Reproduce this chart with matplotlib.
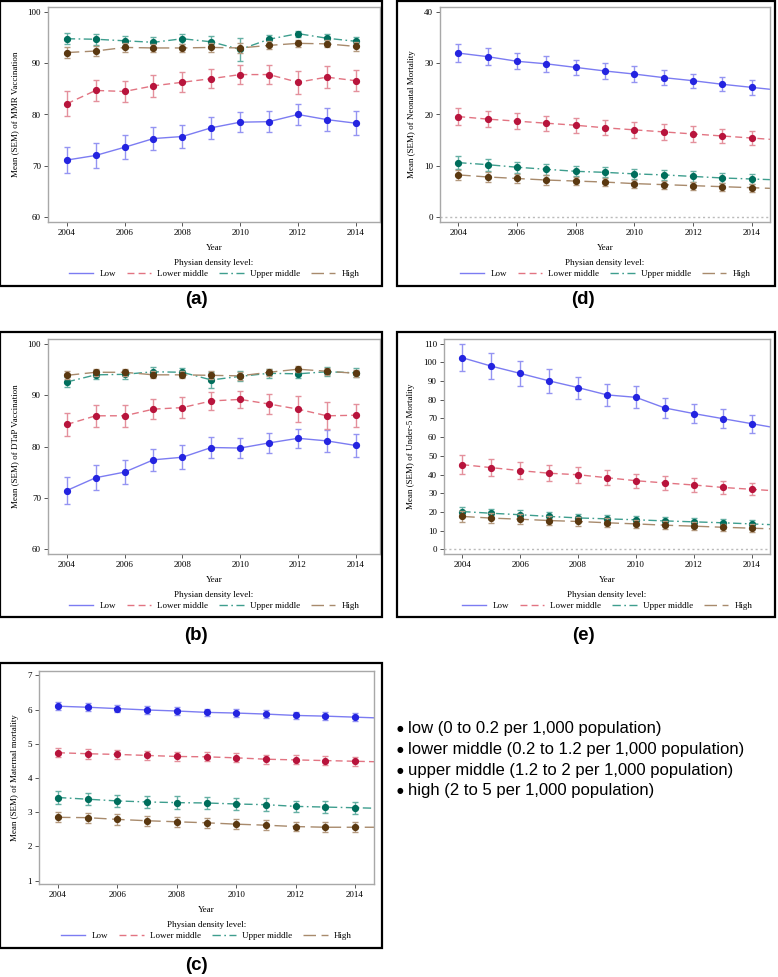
import numpy as np
import matplotlib
matplotlib.use("Agg")
import matplotlib.pyplot as plt
from matplotlib.patches import Rectangle
from matplotlib.lines import Line2D

# data
years = np.arange(2004, 2015)
groups = ["Low", "Lower middle", "Upper middle", "High"]

# (a) MMR vaccination
mmr_low = [71.1, 72.0, 73.6, 75.3, 75.7, 77.4, 78.5, 78.6, 80.0, 79.0, 78.3]
mmr_low_err = [2.6, 2.4, 2.3, 2.3, 2.2, 2.2, 2.0, 2.0, 2.0, 2.2, 2.3]
mmr_lowmid = [82.1, 84.7, 84.5, 85.6, 86.3, 87.0, 87.8, 87.8, 86.3, 87.3, 86.6]
mmr_lowmid_err = [2.4, 2.1, 2.1, 2.1, 2.0, 1.9, 1.9, 1.9, 2.2, 2.1, 2.1]
mmr_upmid = [94.8, 94.7, 94.4, 94.1, 94.8, 94.2, 92.7, 94.7, 95.8, 94.9, 94.3]
mmr_upmid_err = [1.1, 1.1, 1.0, 1.1, 1.0, 1.1, 2.2, 0.9, 0.6, 0.8, 0.9]
mmr_high = [92.1, 92.4, 93.1, 93.0, 93.0, 93.1, 93.0, 93.5, 93.9, 93.8, 93.3]
mmr_high_err = [1.1, 1.0, 0.9, 0.8, 0.8, 0.8, 0.9, 0.8, 0.7, 0.7, 0.9]

# (b) DTaP vaccination
dtap_low = [71.4, 73.9, 75.0, 77.4, 77.9, 79.8, 79.7, 80.7, 81.6, 81.1, 80.2]
dtap_low_err = [2.7, 2.4, 2.4, 2.2, 2.3, 2.1, 2.0, 2.0, 1.9, 2.1, 2.2]
dtap_lowmid = [84.3, 86.0, 86.0, 87.3, 87.6, 88.9, 89.2, 88.3, 87.3, 86.0, 86.1]
dtap_lowmid_err = [2.2, 2.2, 2.2, 2.0, 2.1, 1.8, 1.7, 1.9, 2.5, 2.6, 2.2]
dtap_upmid = [92.6, 94.0, 94.1, 94.6, 94.5, 93.0, 93.7, 94.3, 94.2, 94.6, 94.4]
dtap_upmid_err = [1.0, 0.9, 0.9, 0.9, 0.9, 1.5, 1.0, 0.9, 0.9, 0.9, 0.9]
dtap_high = [93.9, 94.5, 94.5, 94.0, 94.0, 93.9, 93.8, 94.5, 95.1, 94.7, 94.3]
dtap_high_err = [0.8, 0.7, 0.7, 0.7, 0.7, 0.8, 0.8, 0.7, 0.6, 0.7, 0.7]

# (c) maternal mortality
mat_low = [6.10, 6.07, 6.03, 5.99, 5.96, 5.92, 5.90, 5.87, 5.83, 5.81, 5.78]
mat_low_err = [0.12, 0.12, 0.11, 0.11, 0.11, 0.11, 0.11, 0.11, 0.11, 0.11, 0.11]
mat_lowmid = [4.74, 4.71, 4.69, 4.66, 4.63, 4.62, 4.59, 4.55, 4.53, 4.51, 4.49]
mat_lowmid_err = [0.14, 0.14, 0.13, 0.13, 0.13, 0.13, 0.13, 0.13, 0.13, 0.13, 0.13]
mat_upmid = [3.43, 3.38, 3.33, 3.30, 3.28, 3.27, 3.24, 3.22, 3.17, 3.15, 3.13]
mat_upmid_err = [0.18, 0.18, 0.18, 0.18, 0.18, 0.18, 0.18, 0.19, 0.17, 0.18, 0.17]
mat_high = [2.85, 2.84, 2.79, 2.75, 2.72, 2.69, 2.65, 2.62, 2.58, 2.56, 2.56]
mat_high_err = [0.15, 0.15, 0.15, 0.15, 0.15, 0.15, 0.15, 0.15, 0.14, 0.15, 0.15]

# (d) neonatal mortality
neo_low = [32.0, 31.3, 30.4, 29.9, 29.2, 28.5, 27.9, 27.2, 26.6, 25.9, 25.3]
neo_low_err = [1.7, 1.6, 1.6, 1.6, 1.5, 1.5, 1.5, 1.4, 1.4, 1.4, 1.4]
neo_lowmid = [19.6, 19.1, 18.7, 18.3, 17.9, 17.4, 17.0, 16.6, 16.2, 15.8, 15.4]
neo_lowmid_err = [1.6, 1.6, 1.6, 1.5, 1.5, 1.5, 1.5, 1.5, 1.5, 1.4, 1.4]
neo_upmid = [10.6, 10.2, 9.7, 9.3, 8.9, 8.7, 8.4, 8.2, 7.9, 7.6, 7.4]
neo_upmid_err = [1.2, 1.2, 1.1, 1.1, 1.0, 1.0, 1.0, 1.0, 1.0, 0.9, 0.9]
neo_high = [8.2, 7.8, 7.5, 7.2, 7.0, 6.8, 6.5, 6.3, 6.1, 5.9, 5.7]
neo_high_err = [1.0, 0.9, 0.9, 0.9, 0.8, 0.8, 0.8, 0.8, 0.8, 0.8, 0.8]

# (e) under-5 mortality
u5_low = [102.5, 98.0, 94.1, 90.1, 86.5, 82.6, 81.3, 75.6, 72.6, 69.9, 67.2]
u5_low_err = [7.2, 7.0, 6.5, 6.3, 5.9, 5.8, 5.9, 5.3, 5.2, 5.0, 4.9]
u5_lowmid = [45.3, 43.7, 42.1, 40.7, 39.9, 38.3, 36.7, 35.5, 34.4, 33.1, 32.1]
u5_lowmid_err = [5.2, 4.7, 4.5, 4.3, 4.2, 4.0, 3.8, 3.6, 3.5, 3.3, 3.2]
u5_upmid = [20.2, 19.3, 18.5, 17.6, 16.8, 16.3, 15.8, 15.2, 14.7, 14.2, 13.6]
u5_upmid_err = [2.6, 2.5, 2.4, 2.3, 2.2, 2.2, 2.1, 2.1, 2.0, 2.0, 2.0]
u5_high = [17.6, 16.7, 16.1, 15.4, 14.9, 14.2, 13.6, 12.9, 12.4, 11.8, 11.3]
u5_high_err = [2.8, 2.7, 2.6, 2.5, 2.4, 2.3, 2.2, 2.1, 2.1, 2.0, 2.0]

notes = ["low (0 to 0.2 per 1,000 population)",
         "lower middle (0.2 to 1.2 per 1,000 population)",
         "upper middle (1.2 to 2 per 1,000 population)",
         "high (2 to 5 per 1,000 population)"]

# styles
mark_col = ["#2424E0", "#B8143C", "#006E5C", "#5A3810"]
line_col = ["#7C7CF2", "#E27482", "#3E9E8E", "#A88A6C"]
err_col = ["#9494F2", "#E4909C", "#66B0A4", "#B49A80"]
dashes = [(None, None), (5, 3), (6, 2.5, 1.2, 2.5), (9, 4)]

W, H = 778, 977
fig = plt.figure(figsize=(W / 100, H / 100), dpi=100)
serif = "Liberation Serif"
fs = 6.5


def frac(l, t, r, b):
    return [l / W, 1 - b / H, (r - l) / W, (b - t) / H]


def panel(box, frame, xlim, ylim, yticks, ylabel, series, extend, zero, label, label_xy):
    l, t, r, b = box
    fig.patches.append(Rectangle((l / W, 1 - b / H), (r - l) / W, (b - t) / H,
                                 transform=fig.transFigure, fill=False,
                                 edgecolor="black", linewidth=1.6))
    fig.text(label_xy[0] / W, 1 - label_xy[1] / H, label, ha="center", va="center",
             fontsize=13.5, fontweight="bold", family="Liberation Sans")
    ax = fig.add_axes(frac(*frame))
    if zero:
        ax.axhline(0, color="#BBBBBB", linestyle=(0, (1.5, 2)), linewidth=1)
    for i, (vals, errs) in enumerate(series):
        vals = np.array(vals)
        xl, yl = years.astype(float), vals
        if extend:
            xl = np.append(xl, xlim[1] + 0.2)
            yl = np.append(vals, vals[-1] + (vals[-1] - vals[-2]) * (xlim[1] + 0.2 - 2014))
        ln, = ax.plot(xl, yl, color=line_col[i], linewidth=1.0)
        if i > 0:
            ln.set_dashes(dashes[i])
        ax.errorbar(years, vals, yerr=errs, fmt="none", ecolor=err_col[i],
                    elinewidth=1.0, capsize=2.5, capthick=1.0)
        ax.plot(years, vals, "o", color=mark_col[i], markersize=4.2)
    ax.set_xlim(*xlim)
    ax.set_ylim(*ylim)
    ax.set_xticks(range(2004, 2015, 2))
    ax.set_yticks(yticks)
    for s in ax.spines.values():
        s.set_color("#A8A8A8")
        s.set_linewidth(1.0)
    ax.tick_params(length=3, width=0.7, color="#555555", labelsize=fs, pad=2)
    for tl in ax.get_xticklabels() + ax.get_yticklabels():
        tl.set_family(serif)
    ax.set_xlabel("Year", family=serif, fontsize=fs, labelpad=5)
    ax.set_ylabel(ylabel, family=serif, fontsize=fs, labelpad=6)
    handles = []
    for i in range(4):
        h = Line2D([], [], color=line_col[i], linewidth=1.0)
        if i > 0:
            h.set_dashes(dashes[i])
        handles.append(h)
    fl, ft, fr, fb = frame
    leg = fig.legend(handles, groups, ncol=4, frameon=False,
                     loc="upper center", bbox_to_anchor=((fl + fr) / 2 / W, 1 - (fb + 37) / H),
                     title="Physian density level:", prop={"family": serif, "size": fs},
                     handlelength=2.7, columnspacing=1.2, handletextpad=0.7,
                     borderpad=0, borderaxespad=0)
    leg.get_title().set_family(serif)
    leg.get_title().set_fontsize(fs)
    leg._legend_box.sep = 2
    return ax


panel((0, 1, 382, 286), (48, 7, 380, 222), (2003.35, 2014.84), (59, 101), range(60, 101, 10),
      "Mean (SEM) of MMR Vaccination",
      [(mmr_low, mmr_low_err), (mmr_lowmid, mmr_lowmid_err),
       (mmr_upmid, mmr_upmid_err), (mmr_high, mmr_high_err)],
      False, False, "(a)", (196, 300))

panel((0, 332, 382, 617), (48, 339, 380, 554), (2003.35, 2014.84), (59, 101), range(60, 101, 10),
      "Mean (SEM) of DTaP Vaccination",
      [(dtap_low, dtap_low_err), (dtap_lowmid, dtap_lowmid_err),
       (dtap_upmid, dtap_upmid_err), (dtap_high, dtap_high_err)],
      False, False, "(b)", (196, 635))

panel((0, 663, 382, 948), (39, 671, 374, 884), (2003.36, 2014.64), (0.9, 7.13), range(1, 8),
      "Mean (SEM) of Maternal mortality",
      [(mat_low, mat_low_err), (mat_lowmid, mat_lowmid_err),
       (mat_upmid, mat_upmid_err), (mat_high, mat_high_err)],
      True, False, "(c)", (196, 965))

panel((397, 1, 775, 286), (440, 7, 770, 222), (2003.38, 2014.62), (-1.0, 41.0), range(0, 41, 10),
      "Mean (SEM) of Neonatal Mortality",
      [(neo_low, neo_low_err), (neo_lowmid, neo_lowmid_err),
       (neo_upmid, neo_upmid_err), (neo_high, neo_high_err)],
      True, True, "(d)", (583, 300))

panel((397, 332, 775, 617), (444, 339, 770, 554), (2003.37, 2014.63), (-2.5, 112.5), range(0, 111, 10),
      "Mean (SEM) of Under-5 Mortality",
      [(u5_low, u5_low_err), (u5_lowmid, u5_lowmid_err),
       (u5_upmid, u5_upmid_err), (u5_high, u5_high_err)],
      True, True, "(e)", (583, 635))

# text legend for the density levels
for k, txt in enumerate(notes):
    y = 1 - (729 + k * 20.5) / H
    fig.text(400 / W, y, "\u25CF", ha="center", va="center", fontsize=5.5, family="DejaVu Sans")
    fig.text(408 / W, y, txt, ha="left", va="center", fontsize=12, family="Liberation Sans")

fig.savefig("out.png", dpi=100)
